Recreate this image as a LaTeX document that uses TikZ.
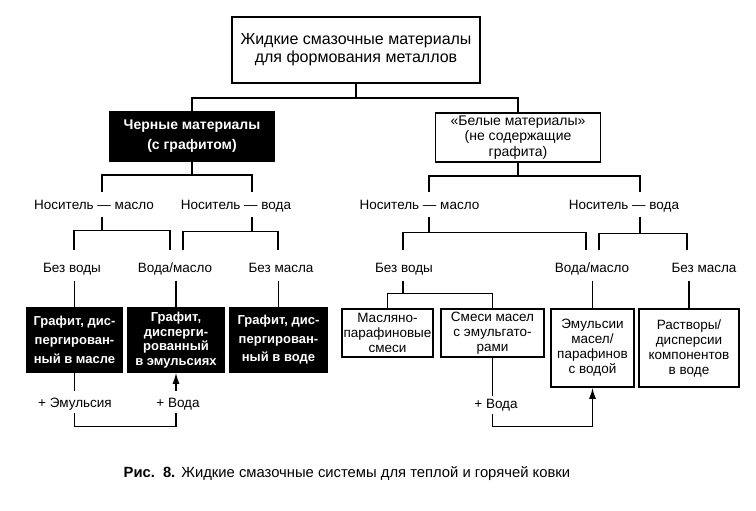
\documentclass[tikz,border=0pt]{standalone}
\usepackage{fontspec}
\setmainfont{Liberation Sans}
\usepackage{tikz}
\usetikzlibrary{arrows.meta}

\begin{document}
\begin{tikzpicture}[x=1pt,y=-1pt,line width=1.4pt,
  box/.style={draw=black,align=center,inner sep=0pt,line width=1.7pt,font=\fontsize{13.5}{15}\selectfont},
  blk/.style={box,fill=black,text=white},
  lbl/.style={inner sep=0pt,anchor=base,font=\fontsize{13.5}{16}\selectfont},
  r1/.style={lbl,text height=16pt,text depth=7pt},
  r2/.style={lbl,text height=21.5pt,text depth=8pt},
  r3/.style={lbl,text height=16pt,text depth=5pt},
  tip/.style={-{Latex[length=11pt,width=7pt]}}]
\useasboundingbox (0,0) rectangle (756,511);
\node[box,minimum width=248,minimum height=66,font=\fontsize{16}{18}\selectfont] (0) at (356,50) {Жидкие смазочные материалы\\для формования металлов};
\node[blk,minimum width=164,minimum height=49,font=\bfseries\fontsize{14}{20}\selectfont] (1) at (192,136.5) {Черные материалы\\(с графитом)};
\node[box,minimum width=165,minimum height=49,font=\fontsize{14}{15.5}\selectfont] (2) at (518,137.5) {«Белые материалы»\\(не содержащие\\графита)};

\node[r1] (3) at (94,209) {Носитель — масло};
\node[r1] (4) at (236,209) {Носитель — вода};
\node[r1] (5) at (419.5,209) {Носитель — масло};
\node[r1] (6) at (624,209) {Носитель — вода};

\node[r2] (7) at (72,272) {Без воды};
\node[r2] (8) at (175,272) {Вода/масло};
\node[r2] (9) at (281,272) {Без масла};
\node[r2] (10) at (404,272) {Без воды};
\node[r2] (11) at (592,272) {Вода/масло};
\node[r2] (12) at (704,272) {Без масла};

\node[blk,minimum width=95,minimum height=64,font=\bfseries\fontsize{13}{19}\selectfont] (13) at (74.5,340) {Графит, дис-\\пергирован-\\ный в масле};
\node[blk,minimum width=96,minimum height=64,font=\bfseries\fontsize{13}{14.7}\selectfont] (14) at (176,340) {Графит,\\дисперги-\\рованный\\в эмульсиях};
\node[blk,minimum width=97,minimum height=64,font=\bfseries\fontsize{13}{18.5}\selectfont] (15) at (278.5,340) {Графит, дис-\\пергирован-\\ный в воде};
\node[box,minimum width=91,minimum height=48] (16) at (387.5,333) {Масляно-\\парафиновые\\смеси};
\node[box,minimum width=103,minimum height=48] (17) at (492.5,333) {Смеси масел\\с эмульгато-\\рами};
\node[box,minimum width=83,minimum height=78] (18) at (592.5,348) {Эмульсии\\масел/\\парафинов\\с водой};
\node[box,minimum width=100,minimum height=78] (19) at (689,348) {Растворы/\\дисперсии\\компонентов\\в воде};

\node[r3] (20) at (75,407.5) {+ Эмульсия};
\node[r3] (21) at (178,407.5) {+ Вода};
\node[r3,text height=11pt] (22) at (496,408) {+ Вода};

\node[anchor=base west,inner sep=0pt,font=\fontsize{14.8}{17}\selectfont] (23) at (123,477) {\textbf{Рис.\hspace{8pt}8.}\hspace{6pt}Жидкие смазочные системы для теплой и горячей ковки};

% black side
\path [draw] (0.south) -- ++(0,14) coordinate (c0) (1.north) |- (c0) -| (2.north);
\path [draw] (1.south) -- ++(0,13) coordinate (c1) ([xshift=8]3.north) |- (c1) -| ([xshift=16]4.north);
\path [draw] ([xshift=8]3.south) -- ++(0,14) coordinate (c3) ([xshift=2]7.north) |- (c3) -| ([xshift=-5]8.north);
\path [draw] ([xshift=16]4.south) -- ++(0,15) coordinate (c4) ([xshift=8]8.north) |- (c4) -| ([xshift=-3]9.north);
\path [draw] (13.north |- 7.south) -- (13.north);
\path [draw] (14.north |- 8.south) -- (14.north);
\path [draw] (15.north |- 9.south) -- (15.north);
\path [draw] (13.south) -- (13.south |- 20.north);
\path [draw] (13.south |- 20.south) -- ++(0,13) -| (14.south |- 21.south);
\path [draw,tip] (14.south |- 21.north) -- (14.south);

% white side
\path [draw] (2.south) -- ++(0,13) coordinate (c2) ([xshift=9.5]5.north) |- (c2) -| ([xshift=16]6.north);
\path [draw] ([xshift=9.5]5.south) -- ++(0,16) coordinate (c5) ([xshift=-1]10.north) |- (c5) -| ([xshift=-6]11.north);
\path [draw] ([xshift=16]6.south) -- ++(0,17) coordinate (c6) ([xshift=7]11.north) |- (c6) -| ([xshift=-17]12.north);
\path [draw] ([xshift=-1]10.south) -- ++(0,13) coordinate (c10) (16.north) |- (c10) -| (17.north);
\path [draw] (18.north |- 11.south) -- (18.north);
\path [draw] (19.north |- 12.south) -- (19.north);
\path [draw] (17.south) -- (17.south |- 22.north);
\path [draw,tip] (17.south |- 22.south) -- ++(0,13) -| (18.south);
\end{tikzpicture}
\end{document}
